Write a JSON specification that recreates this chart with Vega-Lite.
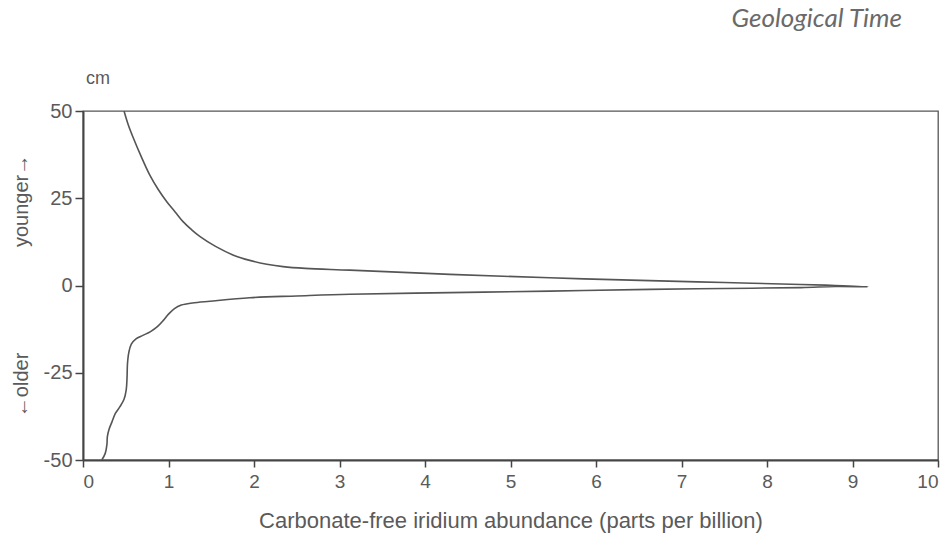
{
  "$schema": "https://vega.github.io/schema/vega-lite/v6.json",
  "width": 855,
  "height": 349,
  "autosize": {"type": "none"},
  "padding": {"left": 83, "top": 111, "right": 11, "bottom": 73},
  "background": "white",
  "title": {
    "text": "Geological Time",
    "anchor": "end",
    "frame": "group",
    "font": "Lato",
    "fontStyle": "italic",
    "fontWeight": "normal",
    "fontSize": 26,
    "color": "#6a6a6a",
    "baseline": "alphabetic",
    "offset": 17,
    "dx": -36
  },
  "config": {
    "view": {"stroke": "#555555", "strokeWidth": 1.3},
    "axis": {
      "grid": false,
      "domainColor": "#444444",
      "domainWidth": 2,
      "tickColor": "#444444",
      "tickWidth": 1.5,
      "labelColor": "#5a5a5a",
      "titleColor": "#5a5a5a",
      "labelFont": "Liberation Sans",
      "titleFont": "Liberation Sans",
      "titleFontWeight": "normal"
    }
  },
  "layer": [
    {
      "data": {
        "values": [
          {"i": 1, "x": 0.48, "y": 50},
          {"i": 2, "x": 0.53, "y": 46},
          {"i": 3, "x": 0.59, "y": 42.2},
          {"i": 4, "x": 0.68, "y": 37},
          {"i": 5, "x": 0.78, "y": 31.7},
          {"i": 6, "x": 0.88, "y": 27.5},
          {"i": 7, "x": 0.98, "y": 24},
          {"i": 8, "x": 1.08, "y": 21},
          {"i": 9, "x": 1.17, "y": 18.3},
          {"i": 10, "x": 1.27, "y": 16},
          {"i": 11, "x": 1.37, "y": 14},
          {"i": 12, "x": 1.55, "y": 11.2},
          {"i": 13, "x": 1.76, "y": 8.7},
          {"i": 14, "x": 1.95, "y": 7.2},
          {"i": 15, "x": 2.15, "y": 6.1},
          {"i": 16, "x": 2.34, "y": 5.4},
          {"i": 17, "x": 2.6, "y": 4.9},
          {"i": 18, "x": 3.12, "y": 4.4},
          {"i": 19, "x": 4.29, "y": 3.2},
          {"i": 20, "x": 5.46, "y": 2.2},
          {"i": 21, "x": 6.63, "y": 1.4},
          {"i": 22, "x": 7.5, "y": 0.85},
          {"i": 23, "x": 8.4, "y": 0.3},
          {"i": 24, "x": 8.8, "y": 0.0},
          {"i": 25, "x": 9.18, "y": -0.35},
          {"i": 26, "x": 8.8, "y": -0.3},
          {"i": 27, "x": 8.4, "y": -0.6},
          {"i": 28, "x": 7.5, "y": -0.85},
          {"i": 29, "x": 6.63, "y": -1.1},
          {"i": 30, "x": 5.46, "y": -1.6},
          {"i": 31, "x": 4.29, "y": -2.05},
          {"i": 32, "x": 3.12, "y": -2.5},
          {"i": 33, "x": 2.5, "y": -3.0},
          {"i": 34, "x": 1.95, "y": -3.5},
          {"i": 35, "x": 1.485, "y": -4.5},
          {"i": 36, "x": 1.28, "y": -5.0},
          {"i": 37, "x": 1.15, "y": -5.6},
          {"i": 38, "x": 1.07, "y": -6.6},
          {"i": 39, "x": 1.0, "y": -8.2},
          {"i": 40, "x": 0.94, "y": -10.0},
          {"i": 41, "x": 0.87, "y": -11.8},
          {"i": 42, "x": 0.79, "y": -13.2},
          {"i": 43, "x": 0.7, "y": -14.3},
          {"i": 44, "x": 0.62, "y": -15.3},
          {"i": 45, "x": 0.565, "y": -16.8},
          {"i": 46, "x": 0.535, "y": -19.3},
          {"i": 47, "x": 0.52, "y": -22.5},
          {"i": 48, "x": 0.515, "y": -26.5},
          {"i": 49, "x": 0.505, "y": -30.0},
          {"i": 50, "x": 0.48, "y": -32.6},
          {"i": 51, "x": 0.43, "y": -34.8},
          {"i": 52, "x": 0.38, "y": -36.6},
          {"i": 53, "x": 0.34, "y": -39.0},
          {"i": 54, "x": 0.305, "y": -41.2},
          {"i": 55, "x": 0.285, "y": -43.3},
          {"i": 56, "x": 0.28, "y": -45.5},
          {"i": 57, "x": 0.26, "y": -48.1},
          {"i": 58, "x": 0.22, "y": -50}
        ]
      },
      "mark": {"type": "line", "interpolate": "catmull-rom", "color": "#555555", "strokeWidth": 1.6, "clip": true},
      "encoding": {
        "x": {
          "field": "x",
          "type": "quantitative",
          "scale": {"domain": [0, 10], "nice": false, "zero": false},
          "axis": {
            "values": [0, 1, 2, 3, 4, 5, 6, 7, 8, 9, 10],
            "labelExpr": "'' + datum.value",
            "labelFontSize": 19,
            "tickSize": 7,
            "labelPadding": 5,
            "title": "Carbonate-free iridium abundance (parts per billion)",
            "titleFontSize": 22,
            "titleBaseline": "alphabetic",
            "titleY": 67
          }
        },
        "y": {
          "field": "y",
          "type": "quantitative",
          "scale": {"domain": [-50, 50], "nice": false, "zero": false},
          "axis": {
            "values": [-50, -25, 0, 25, 50],
            "labelExpr": "'' + datum.value",
            "labelFontSize": 20,
            "tickSize": 8,
            "labelPadding": 3,
            "title": "←older\u00a0\u00a0\u00a0\u00a0\u00a0\u00a0\u00a0\u00a0\u00a0\u00a0\u00a0\u00a0\u00a0\u00a0\u00a0\u00a0\u00a0\u00a0\u00a0younger→",
            "titleFontSize": 20,
            "titleX": -62,
            "titleBaseline": "middle"
          }
        },
        "order": {"field": "i", "type": "quantitative"}
      }
    },
    {
      "data": {"values": [{"label": "cm"}]},
      "mark": {"type": "text", "font": "Liberation Sans", "fontSize": 18, "color": "#5a5a5a", "align": "center", "baseline": "alphabetic", "dx": 15, "dy": -27},
      "encoding": {
        "x": {"datum": 0},
        "y": {"datum": 50},
        "text": {"field": "label", "type": "nominal"}
      }
    }
  ]
}
